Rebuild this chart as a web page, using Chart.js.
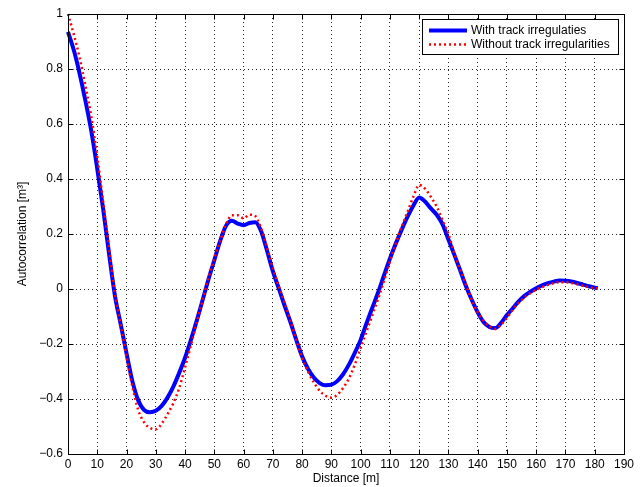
<!DOCTYPE html>
<html>
<head>
<meta charset="utf-8">
<script src="https://cdn.jsdelivr.net/npm/chart.js@4/dist/chart.umd.min.js"></script>
<style>
  html, body { margin: 0; padding: 0; background: #fff; }
  #wrap { width: 644px; height: 487px; }
</style>
</head>
<body>
<div id="wrap"><canvas id="c" width="644" height="487"></canvas></div>
<script>
// Distance lags [m]
const distance = [
  0, 2, 4, 6, 8, 10, 12, 14, 16, 18, 20, 22, 24, 26, 28, 30, 32, 34, 36, 38,
  40, 42, 44, 46, 48, 50, 52, 54, 56, 58, 60, 62, 64, 66, 68, 70, 72, 74, 76, 78,
  80, 82, 84, 86, 88, 90, 92, 94, 96, 98, 100, 102, 104, 106, 108, 110, 112, 114, 116, 118,
  120, 122, 124, 126, 128, 130, 132, 134, 136, 138, 140, 142, 144, 146, 148, 150, 152, 154, 156, 158,
  160, 162, 164, 166, 168, 170, 172, 174, 176, 178, 180, 181
];

// Autocorrelation with track irregularities [m^3]
const withIrregularities = [
  0.935, 0.868, 0.782, 0.682, 0.572, 0.437, 0.292, 0.130, -0.022, -0.128,
  -0.234, -0.335, -0.405, -0.440, -0.448, -0.443, -0.425, -0.395, -0.355, -0.305,
  -0.250, -0.185, -0.115, -0.040, 0.035, 0.105, 0.175, 0.230, 0.248, 0.238,
  0.232, 0.240, 0.243, 0.210, 0.140, 0.065, 0.003, -0.060, -0.120, -0.185,
  -0.245, -0.290, -0.322, -0.342, -0.350, -0.348, -0.335, -0.310, -0.275, -0.232,
  -0.185, -0.125, -0.068, -0.012, 0.050, 0.110, 0.165, 0.215, 0.262, 0.303,
  0.333, 0.318, 0.293, 0.270, 0.235, 0.180, 0.125, 0.068, 0.010, -0.040,
  -0.085, -0.120, -0.138, -0.142, -0.123, -0.095, -0.070, -0.045, -0.025, -0.010,
  0.003, 0.013, 0.021, 0.027, 0.031, 0.030, 0.027, 0.022, 0.016, 0.010,
  0.005, 0.003
];

// Autocorrelation without track irregularities [m^3]
const withoutIrregularities = [
  1.000, 0.925, 0.840, 0.737, 0.625, 0.482, 0.318, 0.150, -0.015, -0.130,
  -0.245, -0.355, -0.440, -0.485, -0.505, -0.510, -0.490, -0.455, -0.415, -0.360,
  -0.285, -0.205, -0.120, -0.040, 0.040, 0.110, 0.175, 0.235, 0.268, 0.268,
  0.257, 0.270, 0.265, 0.220, 0.150, 0.075, 0.010, -0.050, -0.115, -0.185,
  -0.250, -0.300, -0.340, -0.370, -0.388, -0.395, -0.385, -0.360, -0.325, -0.275,
  -0.215, -0.155, -0.095, -0.035, 0.030, 0.100, 0.165, 0.225, 0.280, 0.335,
  0.378, 0.365, 0.335, 0.300, 0.250, 0.200, 0.130, 0.070, 0.015, -0.040,
  -0.085, -0.115, -0.135, -0.145, -0.130, -0.105, -0.075, -0.050, -0.030, -0.015,
  -0.003, 0.007, 0.015, 0.021, 0.025, 0.025, 0.022, 0.017, 0.012, 0.007,
  0.003, 0.002
];

const seriesLabels = ['With track irregulaties', 'Without track irregularities'];

const xTickValues = [0, 10, 20, 30, 40, 50, 60, 70, 80, 90, 100, 110, 120, 130, 140, 150, 160, 170, 180, 190];
const xTickLabels = ['0', '10', '20', '30', '40', '50', '60', '70', '80', '90', '100', '110', '120', '130', '140', '150', '160', '170', '180', '190'];
const yTickValues = [-0.6, -0.4, -0.2, 0, 0.2, 0.4, 0.6, 0.8, 1];
const yTickLabels = ['\u22120.6', '\u22120.4', '\u22120.2', '0', '0.2', '0.4', '0.6', '0.8', '1'];

const FONT = "'Liberation Sans', Arial, Helvetica, sans-serif";
Chart.defaults.font.family = FONT;
Chart.defaults.font.size = 12;
Chart.defaults.color = '#000';

const toPoints = vals => distance.map((d, i) => ({ x: d, y: vals[i] }));

// Axes box, inward tick marks on all four sides, and the boxed legend
const frame = {
  id: 'frame',
  afterDraw(chart) {
    const { ctx, chartArea: a, scales: { x, y } } = chart;
    const L = Math.round(a.left) + 0.5, R = Math.round(a.right) + 0.5;
    const T = Math.round(a.top) + 0.5, B = Math.round(a.bottom) + 0.5;
    const TL = 5;
    ctx.save();
    ctx.strokeStyle = '#000';
    ctx.lineWidth = 1;
    ctx.setLineDash([]);
    ctx.strokeRect(L, T, R - L, B - T);
    ctx.beginPath();
    x.ticks.forEach(t => {
      const px = Math.round(x.getPixelForValue(t.value)) + 0.5;
      ctx.moveTo(px, B); ctx.lineTo(px, B - TL);
      ctx.moveTo(px, T); ctx.lineTo(px, T + TL);
    });
    y.ticks.forEach(t => {
      const py = Math.round(y.getPixelForValue(t.value)) + 0.5;
      ctx.moveTo(L, py); ctx.lineTo(L + TL, py);
      ctx.moveTo(R, py); ctx.lineTo(R - TL, py);
    });
    ctx.stroke();

    // legend
    const bx = 422.5, by = 19.5, bw = 196, bh = 35;
    ctx.fillStyle = '#fff';
    ctx.fillRect(bx, by, bw, bh);
    ctx.strokeRect(bx, by, bw, bh);
    const rows = [30.5, 44.5];
    chart.data.datasets.forEach((ds, i) => {
      const ry = rows[i];
      ctx.save();
      ctx.strokeStyle = ds.borderColor;
      ctx.lineWidth = ds.borderWidth;
      ctx.setLineDash(ds.borderDash || []);
      ctx.beginPath();
      ctx.moveTo(429, ry);
      ctx.lineTo(467, ry);
      ctx.stroke();
      ctx.restore();
      ctx.fillStyle = '#000';
      ctx.font = '12px ' + FONT;
      ctx.textBaseline = 'middle';
      ctx.textAlign = 'left';
      ctx.fillText(ds.label, 471, ry);
    });
    ctx.restore();
  }
};

new Chart(document.getElementById('c'), {
  type: 'line',
  data: {
    datasets: [
      {
        label: seriesLabels[0],
        data: toPoints(withIrregularities),
        borderColor: '#0000ff',
        borderWidth: 4,
        pointRadius: 0,
        cubicInterpolationMode: 'monotone',
        fill: false,
        order: 2
      },
      {
        label: seriesLabels[1],
        data: toPoints(withoutIrregularities),
        borderColor: '#ff0000',
        borderWidth: 2.5,
        borderDash: [2, 3],
        borderCapStyle: 'butt',
        pointRadius: 0,
        cubicInterpolationMode: 'monotone',
        fill: false,
        order: 1
      }
    ]
  },
  options: {
    responsive: false,
    animation: false,
    devicePixelRatio: 1,
    clip: 4,
    layout: { padding: { top: 14, right: 20, bottom: 0, left: 0 } },
    plugins: { legend: { display: false }, tooltip: { enabled: false } },
    scales: {
      x: {
        type: 'linear',
        min: 0,
        max: 190,
        afterBuildTicks: s => { s.ticks = xTickValues.map(v => ({ value: v })); },
        afterFit: s => { s.height = 33; },
        ticks: {
          autoSkip: false,
          maxRotation: 0,
          padding: 3,
          color: '#000',
          font: { size: 12 },
          callback: (v, i) => xTickLabels[i]
        },
        grid: { color: 'rgba(0,0,0,0.85)', lineWidth: 1, drawTicks: false },
        border: { display: false, dash: [1, 3] },
        title: {
          display: true,
          text: 'Distance [m]',
          color: '#000',
          font: { size: 12 },
          padding: { top: 0, bottom: 1.5 }
        }
      },
      y: {
        type: 'linear',
        min: -0.6,
        max: 1,
        afterBuildTicks: s => { s.ticks = yTickValues.map(v => ({ value: v })); },
        afterFit: s => { s.width = 68; },
        ticks: {
          autoSkip: false,
          padding: 5,
          color: '#000',
          font: { size: 12 },
          callback: (v, i) => yTickLabels[i]
        },
        grid: { color: 'rgba(0,0,0,0.85)', lineWidth: 1, drawTicks: false },
        border: { display: false, dash: [1, 3] },
        title: {
          display: true,
          text: 'Autocorrelation [m\u00B3]',
          color: '#000',
          font: { size: 12 },
          padding: { top: 15, bottom: 0 }
        }
      }
    }
  },
  plugins: [frame]
});
</script>
</body>
</html>
